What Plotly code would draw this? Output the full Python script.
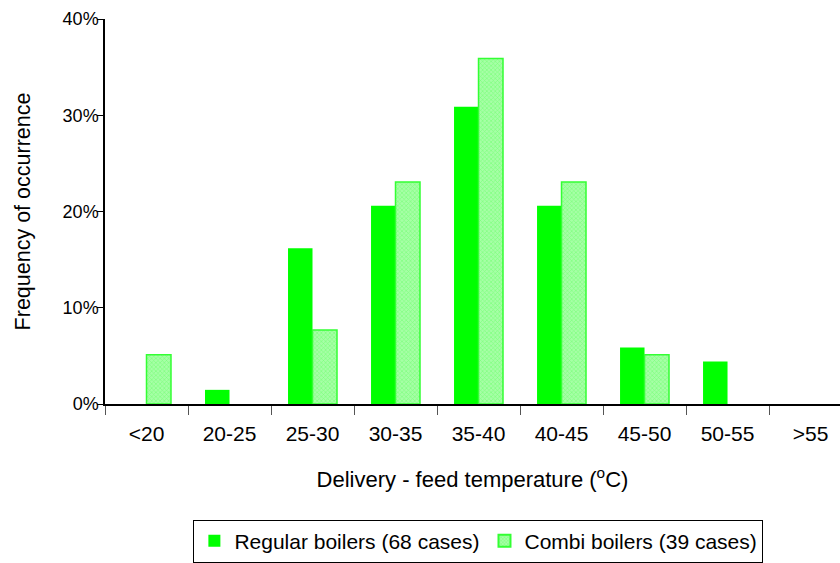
import plotly.graph_objects as go

# Temperature-difference bands and the share of cases in each band
categories = ["<20", "20-25", "25-30", "30-35", "35-40", "40-45", "45-50", "50-55", ">55"]
regular_counts = [0, 1, 11, 14, 21, 14, 4, 3, 0]   # 68 regular boilers
combi_counts = [2, 0, 3, 9, 14, 9, 2, 0, 0]        # 39 combi boilers
regular_total = 68
combi_total = 39

regular_share = [c / regular_total for c in regular_counts]
combi_share = [c / combi_total for c in combi_counts]

FONT = "Liberation Sans, Arial, sans-serif"

fig = go.Figure()
fig.add_trace(go.Bar(
    x=categories, y=regular_share,
    name=f"Regular boilers ({regular_total} cases)",
    marker=dict(color="#00FF00", line=dict(width=0)),
))
fig.add_trace(go.Bar(
    x=categories, y=combi_share,
    name=f"Combi boilers ({combi_total} cases)",
    marker=dict(
        color="#99FF99",
        # no outline on empty bands so nothing is drawn at zero
        line=dict(color="#33FF33", width=[1.5 if v > 0 else 0 for v in combi_share]),
        pattern=dict(shape="x", fgcolor="#4CFF4C", bgcolor="#A6FFA6",
                     size=3, solidity=0.35),
    ),
))

fig.update_layout(
    width=840, height=563,
    margin=dict(l=105, r=0, t=19, b=155),
    paper_bgcolor="white", plot_bgcolor="white",
    font=dict(family=FONT, size=21, color="black"),
    barmode="group", bargap=0.41, bargroupgap=0,
    showlegend=True,
    legend=dict(
        orientation="h", x=0.508, xanchor="center", y=-0.30, yanchor="top",
        bordercolor="black", borderwidth=1, bgcolor="white",
        font=dict(size=21), itemsizing="constant",
    ),
)

fig.update_xaxes(
    type="category",
    range=[-0.5, 8.355],
    showline=True, linecolor="black", linewidth=1.5,
    ticks="outside", tickson="boundaries", ticklen=9, tickcolor="#555", tickwidth=1,
    ticklabelstandoff=10,
    showgrid=False, zeroline=False,
    title=dict(text="Delivery - feed temperature (<sup>o</sup>C)",
               font=dict(size=22), standoff=28),
)
fig.update_yaxes(
    range=[0, 0.4], dtick=0.1, tickformat=".0%",
    showline=True, linecolor="black", linewidth=1.5,
    ticks="outside", ticklen=6, tickcolor="black",
    tickfont=dict(size=18), ticklabelstandoff=-5,
    showgrid=False, zeroline=False,
    title=dict(text="Frequency of occurrence", font=dict(size=21.5), standoff=26),
)

fig.write_html("out.html")
